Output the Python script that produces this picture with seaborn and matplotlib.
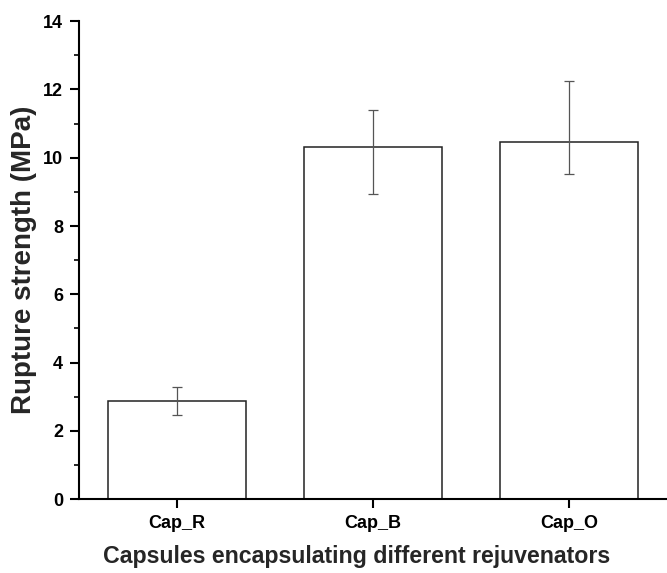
import numpy as np
import pandas as pd
import matplotlib
matplotlib.use("Agg")
import matplotlib.pyplot as plt
from matplotlib.ticker import MultipleLocator
import seaborn as sns

# data
categories = ["Cap_R", "Cap_B", "Cap_O"]
strength = [2.87, 10.32, 10.47]
err_low = [2.47, 8.94, 9.52]
err_high = [3.27, 11.40, 12.24]

sns.set_style("ticks")
plt.rcParams["font.family"] = ["Liberation Sans", "DejaVu Sans"]
plt.rcParams["font.weight"] = "bold"

df = pd.DataFrame({"cap": categories, "val": strength})

fig = plt.figure(figsize=(6.67, 5.73), dpi=100)
ax = fig.add_axes([0.1184, 0.129, 0.8816, 0.834])

sns.barplot(data=df, x="cap", y="val", ax=ax, color="white",
            edgecolor="#222222", linewidth=1.1, width=0.7, errorbar=None,
            saturation=1)

vals = np.array(strength)
yerr = np.vstack([vals - np.array(err_low), np.array(err_high) - vals])
ax.errorbar(np.arange(len(categories)), vals, yerr=yerr, fmt="none",
            ecolor="#555555", elinewidth=0.9, capsize=3.6, capthick=0.9)

ax.set_xlim(-0.5, 2.5)
ax.set_ylim(0, 14)
ax.yaxis.set_major_locator(MultipleLocator(2))
ax.yaxis.set_minor_locator(MultipleLocator(1))

for side in ["top", "right"]:
    ax.spines[side].set_visible(False)
for side in ["left", "bottom"]:
    ax.spines[side].set_linewidth(1.5)
    ax.spines[side].set_color("black")

ax.tick_params(axis="both", which="major", length=6.5, width=1.5,
               labelsize=13, direction="out", colors="black")
ax.tick_params(axis="y", which="minor", length=3.8, width=1.2,
               direction="out", colors="black")
ax.tick_params(axis="x", pad=5)
ax.tick_params(axis="y", pad=5)

ax.set_xlabel("Capsules encapsulating different rejuvenators",
              fontsize=16.7, fontweight="bold")
ax.set_ylabel("Rupture strength (MPa)", fontsize=20,
              fontweight="bold", labelpad=4)
ax.xaxis.set_label_coords(0.473, -0.097)
for lab in ax.get_xticklabels() + ax.get_yticklabels():
    lab.set_fontweight("bold")

fig.savefig("out.png", dpi=100)
